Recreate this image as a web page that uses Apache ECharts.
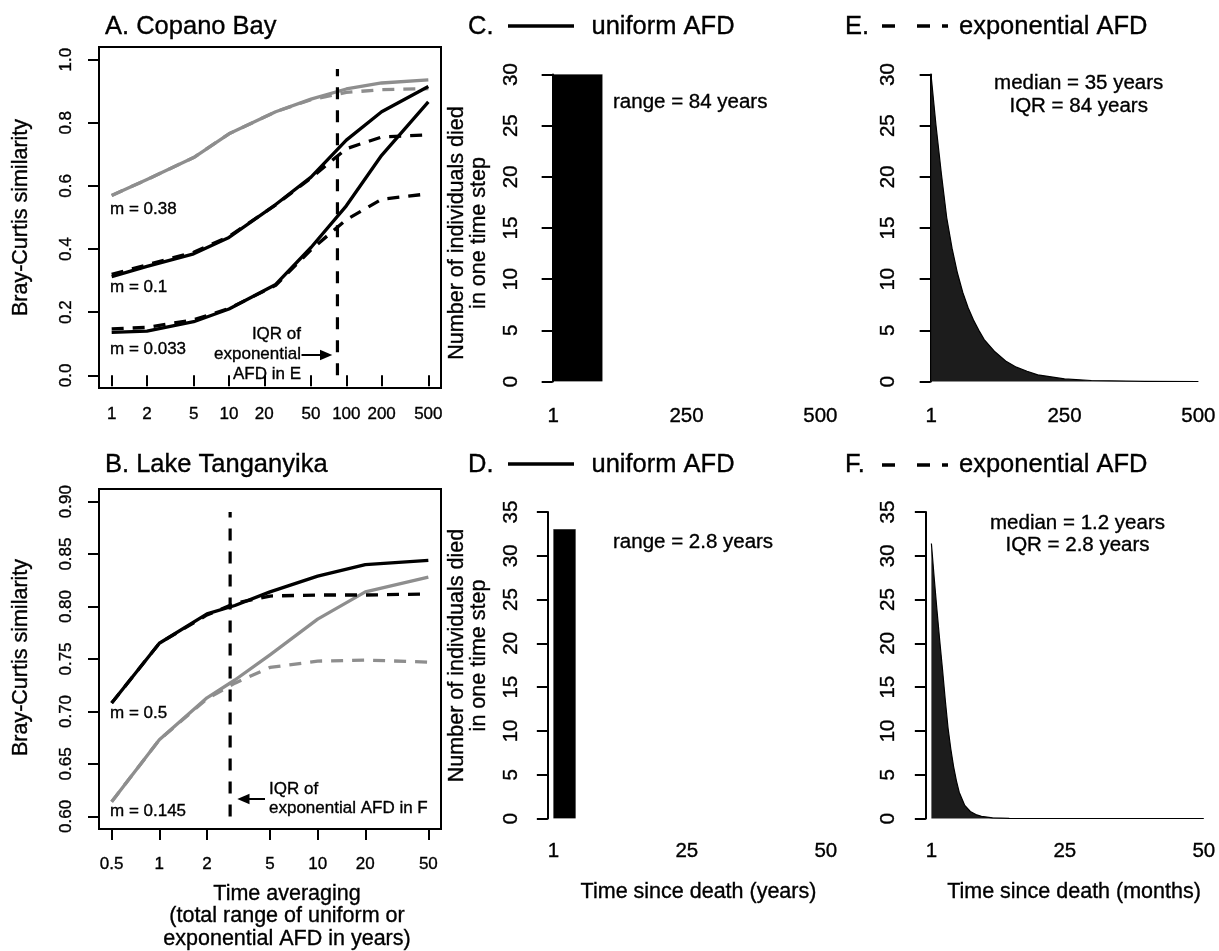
<!DOCTYPE html>
<html><head><meta charset="utf-8">
<script src="https://cdn.jsdelivr.net/npm/echarts@6/dist/echarts.min.js"></script>
<style>html,body{margin:0;padding:0;background:#fff}#c{width:1219px;height:951px}</style>
</head><body><div id="c"></div>
<script>
// ---------- Panel A: Copano Bay (Bray-Curtis similarity vs time averaging) ----------
const aTime = [1, 2, 5, 10, 25, 50, 100, 200, 500];
const aM038Uniform = [0.570, 0.620, 0.690, 0.765, 0.835, 0.875, 0.907, 0.926, 0.936];
const aM038Exp     = [0.570, 0.620, 0.690, 0.765, 0.835, 0.873, 0.896, 0.905, 0.908];
const aM01Uniform  = [0.313, 0.345, 0.385, 0.437, 0.541, 0.628, 0.745, 0.835, 0.915];
const aM01Exp      = [0.320, 0.350, 0.390, 0.440, 0.540, 0.625, 0.718, 0.755, 0.762];
const aM0033Uniform= [0.136, 0.140, 0.170, 0.210, 0.288, 0.405, 0.537, 0.697, 0.866];
const aM0033Exp    = [0.147, 0.152, 0.176, 0.212, 0.285, 0.398, 0.493, 0.558, 0.575];
const aIQR = 84;
const aIQRSpan = [0, 0.97];
const aXTicks = [1, 2, 5, 10, 20, 50, 100, 200, 500];
const aYTicks = [0, 0.2, 0.4, 0.6, 0.8, 1.0];

// ---------- Panel B: Lake Tanganyika ----------
const bTime = [0.5, 1, 2, 3, 5, 10, 20, 50];
const bM05Uniform   = [0.708, 0.765, 0.793, 0.801, 0.814, 0.829, 0.840, 0.844];
const bM05Exp       = [0.708, 0.765, 0.792, 0.803, 0.810, 0.811, 0.811, 0.812];
const bM0145Uniform = [0.614, 0.673, 0.713, 0.730, 0.754, 0.788, 0.814, 0.828];
const bM0145Exp     = [0.614, 0.673, 0.712, 0.727, 0.742, 0.748, 0.749, 0.747];
const bIQR = 2.8;
const bIQRSpan = [0.6, 0.89];
const bXTicks = [0.5, 1, 2, 5, 10, 20, 50];
const bYTicks = [0.60, 0.65, 0.70, 0.75, 0.80, 0.85, 0.90];

// ---------- Panel C: uniform AFD (years) ----------
const cStart = 1, cEnd = 93, cCount = 30;
const cXTicks = [1, 250, 500];
// ---------- Panel D: uniform AFD (years) ----------
const dStart = 1, dEnd = 5, dCount = 33;
const dXTicks = [1, 25, 50];
// ---------- Panel E: exponential AFD ----------
const eTime  = [1, 10, 20, 30, 40, 50, 60, 70, 80, 90, 100, 120, 140, 160, 180, 200, 250, 300, 400, 500];
const eCount = [29.8, 25.0, 20.3, 16.0, 13.0, 10.6, 8.7, 7.2, 6.0, 5.0, 4.1, 2.9, 2.0, 1.4, 1.0, 0.65, 0.25, 0.1, 0.02, 0];
const eXTicks = [1, 250, 500];
// ---------- Panel F: exponential AFD (months) ----------
const fTime  = [1, 1.5, 2, 2.5, 3, 3.5, 4, 4.5, 5, 5.5, 6, 7, 8, 9, 10, 12, 15, 20, 30, 50];
const fCount = [31.4, 27.5, 23.8, 20.3, 17.0, 13.5, 10.3, 7.9, 5.9, 4.3, 3.0, 1.5, 0.8, 0.45, 0.25, 0.08, 0.02, 0, 0, 0];
const fXTicks = [1, 25, 50];

const FONT = '"Liberation Sans", Arial, Helvetica, sans-serif';
const GRAY = '#8e8e8e';
const LW = 3.3;
const DASH = [12, 9];
const TB = 0.35; // slight text weight to match the heavier reference glyphs

const pairs = (xs, ys) => xs.map((x, i) => [x, ys[i]]);

function lineSeries(gi, xs, ys, color, dashed, z) {
  return {
    type: 'line', xAxisIndex: gi, yAxisIndex: gi, data: pairs(xs, ys),
    showSymbol: false, symbol: 'none', z: z || 2,
    lineStyle: { color, width: LW, type: dashed ? DASH : 'solid', cap: 'butt', join: 'round' }
  };
}

const chart = echarts.init(document.getElementById('c'), null, { renderer: 'canvas' });

const tickLabelA = { color: '#000', fontFamily: FONT, fontSize: 17, textBorderColor: '#000', textBorderWidth: TB };
const tickLabelC = { color: '#000', fontFamily: FONT, fontSize: 20.5, textBorderColor: '#000', textBorderWidth: TB };

const grids = [
  { left: 99, top: 47, width: 342, height: 341, show: true, borderColor: '#000', borderWidth: 2 },
  { left: 99, top: 489, width: 342, height: 340, show: true, borderColor: '#000', borderWidth: 2 },
  { left: 542.5, top: 74.5, width: 288.6, height: 307 },
  { left: 542.5, top: 512, width: 294.2, height: 306.5 },
  { left: 920.5, top: 74.5, width: 288.6, height: 307 },
  { left: 920.5, top: 512, width: 294.2, height: 306.5 }
];

function logX(gi, min, max, ticks, margin) {
  return {
    type: 'log', gridIndex: gi, min, max, logBase: 10,
    axisLine: { show: false },
    axisTick: { show: true, inside: false, length: 11, customValues: ticks, lineStyle: { color: '#000', width: 2 } },
    axisLabel: Object.assign({ customValues: ticks, margin, formatter: v => String(+v.toPrecision(6)) }, tickLabelA),
    splitLine: { show: false }, minorTick: { show: false }
  };
}
function valY(gi, min, max, ticks, digits, margin) {
  return {
    type: 'value', gridIndex: gi, min, max,
    axisLine: { show: false },
    axisTick: { show: true, inside: false, length: 11, customValues: ticks, lineStyle: { color: '#000', width: 2 } },
    axisLabel: Object.assign({ customValues: ticks, rotate: 90, margin, formatter: v => (+v).toFixed(digits) }, tickLabelA),
    splitLine: { show: false }
  };
}
function histX(gi, min, max, ticks, margin) {
  return {
    type: 'value', gridIndex: gi, min, max,
    axisLine: { show: false }, axisTick: { show: false },
    axisLabel: Object.assign({ customValues: ticks, margin, formatter: v => String(Math.round(v)) }, tickLabelC),
    splitLine: { show: false }
  };
}
function histY(gi, max, margin) {
  return {
    type: 'value', gridIndex: gi, min: 0, max, interval: 5,
    axisLine: { show: true, lineStyle: { color: '#000', width: 2 } },
    axisTick: { show: true, inside: false, length: 11, lineStyle: { color: '#000', width: 2 } },
    axisLabel: Object.assign({ rotate: 90, margin }, tickLabelC),
    splitLine: { show: false }
  };
}

const xAxes = [
  logX(0, 0.7798, 641.1, aXTicks, 18),
  logX(1, 0.4159, 60.11, bXTicks, 26.5),
  histX(2, -18.96, 519.96, cXTicks, 24),
  histX(3, -0.96, 51.96, dXTicks, 22.5),
  histX(4, -18.96, 519.96, eXTicks, 24),
  histX(5, -0.96, 51.96, fXTicks, 22.5)
];
const yAxes = [
  valY(0, -0.04, 1.04, aYTicks, 1, 24.5),
  valY(1, 0.588, 0.912, bYTicks, 2, 24.5),
  histY(2, 30, 21),
  histY(3, 35, 21),
  histY(4, 30, 22),
  histY(5, 35, 22)
];

function vline(gi, x, span) {
  return {
    type: 'line', xAxisIndex: gi, yAxisIndex: gi, data: [[x, span[0]], [x, span[1]]],
    showSymbol: false, symbol: 'none', z: 5,
    lineStyle: { color: '#000', width: 3.2, type: [12, 11], cap: 'butt' }
  };
}
function rectSeries(gi, x0, x1, h, color) {
  return {
    type: 'line', xAxisIndex: gi, yAxisIndex: gi, data: [[x0, h], [x1, h]],
    showSymbol: false, symbol: 'none',
    lineStyle: { color, width: 0.5 },
    areaStyle: { color, opacity: 1 }
  };
}
function decaySeries(gi, xs, ys) {
  return {
    type: 'line', xAxisIndex: gi, yAxisIndex: gi, data: pairs(xs, ys),
    showSymbol: false, symbol: 'none', smooth: false,
    lineStyle: { color: '#000', width: 1.2, join: 'round' },
    areaStyle: { color: '#1c1c1c', opacity: 1 }
  };
}

const series = [
  lineSeries(0, aTime, aM038Exp, GRAY, true, 2),
  lineSeries(0, aTime, aM038Uniform, GRAY, false, 2),
  lineSeries(0, aTime, aM01Exp, '#000', true, 3),
  lineSeries(0, aTime, aM01Uniform, '#000', false, 3),
  lineSeries(0, aTime, aM0033Exp, '#000', true, 3),
  lineSeries(0, aTime, aM0033Uniform, '#000', false, 3),
  vline(0, aIQR, aIQRSpan),
  lineSeries(1, bTime, bM0145Exp, GRAY, true, 2),
  lineSeries(1, bTime, bM0145Uniform, GRAY, false, 2),
  lineSeries(1, bTime, bM05Exp, '#000', true, 3),
  lineSeries(1, bTime, bM05Uniform, '#000', false, 3),
  vline(1, bIQR, bIQRSpan),
  rectSeries(2, cStart, cEnd, cCount, '#000'),
  rectSeries(3, dStart, dEnd, dCount, '#000'),
  decaySeries(4, eTime, eCount),
  decaySeries(5, fTime, fCount)
];

function T(x, y, text, size, o) {
  o = o || {};
  return {
    type: 'text', x, y, rotation: o.rot || 0, z: 10,
    style: { text, font: size + 'px ' + FONT, fill: '#000', stroke: '#000', lineWidth: TB,
             align: o.align || 'left', verticalAlign: 'middle', lineHeight: o.lh || undefined }
  };
}
function L(x1, y1, x2, y2, w, dash) {
  return { type: 'line', z: 10, shape: { x1, y1, x2, y2 }, style: { stroke: '#000', lineWidth: w, lineDash: dash || null, lineCap: 'butt' } };
}
function P(points) {
  return { type: 'polygon', z: 10, shape: { points }, style: { fill: '#000' } };
}

const graphic = [
  // panel titles
  T(105, 27, 'A. Copano Bay', 25.5),
  T(105, 464.5, 'B. Lake Tanganyika', 25.5),
  T(468, 26.5, 'C.', 25.5), L(508, 26, 574, 26, 3.5), T(591.5, 26.5, 'uniform AFD', 25.5),
  T(468, 464.5, 'D.', 25.5), L(508, 464, 574, 464, 3.5), T(591.5, 464.5, 'uniform AFD', 25.5),
  T(845, 26.5, 'E.', 25.5), L(882, 26, 948, 26, 3.5, [13, 22, 13, 12]), T(959, 26.5, 'exponential AFD', 25.5),
  T(845, 464.5, 'F.', 25.5), L(882, 465, 948, 465, 3.5, [13, 22, 13, 12]), T(959, 464.5, 'exponential AFD', 25.5),
  // axis titles
  T(21, 217.5, 'Bray-Curtis similarity', 21.5, { rot: Math.PI / 2, align: 'center' }),
  T(21, 657.5, 'Bray-Curtis similarity', 21.5, { rot: Math.PI / 2, align: 'center' }),
  T(287, 916.5, 'Time averaging\n(total range of uniform or\nexponential AFD in years)', 21.5, { align: 'center', lh: 22.7 }),
  T(468, 233, 'Number of individuals died\nin one time step', 21.5, { rot: Math.PI / 2, align: 'center', lh: 21.5 }),
  T(468, 655.5, 'Number of individuals died\nin one time step', 21.5, { rot: Math.PI / 2, align: 'center', lh: 21.5 }),
  T(698.5, 891.8, 'Time since death (years)', 21.5, { align: 'center' }),
  T(1074, 891.8, 'Time since death (months)', 21.5, { align: 'center' }),
  // m labels
  T(110, 209, 'm = 0.38', 17),
  T(110, 287.4, 'm = 0.1', 17),
  T(110, 349, 'm = 0.033', 17),
  T(110, 713.4, 'm = 0.5', 17),
  T(110, 811.7, 'm = 0.145', 17),
  // IQR annotations
  T(301, 354, 'IQR of\nexponential\nAFD in E', 17, { align: 'right', lh: 20 }),
  L(301.5, 355, 321, 355, 2), P([[320, 349.7], [332.3, 355], [320, 360.3]]),
  T(269, 799, 'IQR of\nexponential AFD in F', 17, { lh: 18.5 }),
  L(249, 799, 265, 799, 2), P([[237.3, 799], [249.5, 793.7], [249.5, 804.3]]),
  // distribution annotations
  T(613, 102.8, 'range = 84 years', 20.5),
  T(613, 542.8, 'range = 2.8 years', 20.5),
  T(1078.7, 94.7, 'median = 35 years\nIQR = 84 years', 20.5, { align: 'center', lh: 22.5 }),
  T(1077.5, 534.2, 'median = 1.2 years\nIQR = 2.8 years', 20.5, { align: 'center', lh: 22.7 })
];

chart.setOption({
  animation: false,
  backgroundColor: '#fff',
  grid: grids,
  xAxis: xAxes,
  yAxis: yAxes,
  series,
  graphic
});
</script>
</body></html>
